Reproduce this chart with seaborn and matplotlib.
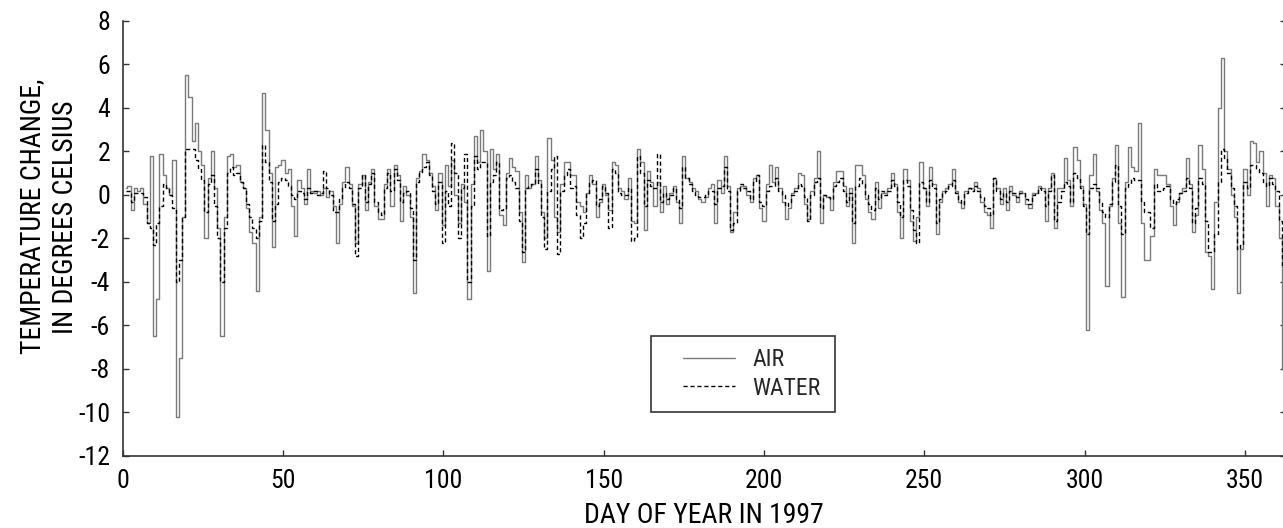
import numpy as np
import pandas as pd
import matplotlib
matplotlib.use("Agg")
import matplotlib.pyplot as plt
from matplotlib import font_manager
from matplotlib.legend_handler import HandlerLine2D
import seaborn as sns

# ---- data (daily values, day 1 .. 363) ----
air = [
    0.3, 0.4, -0.7, 0.3, 0.2, 0.3, -0.4, -1.3, 1.8, -6.5, -4.8, 1.9, 0.9, 0.3, 0.0, 1.6, -10.2, -7.5,
    -1.0, 5.5, 4.5, 2.5, 3.3, 2.0, 1.4, -2.0, 0.8, 2.0, 0.3, -1.5, -6.5, -1.0, 1.8, 1.9, 1.3, 1.4,
    0.6, 0.3, -0.6, -1.7, -2.2, -4.4, -1.0, 4.7, 3.0, 1.0, -2.4, 1.3, 1.4, 1.6, 1.0, 1.2, -0.5, -1.9,
    0.7, 0.3, -0.4, 1.2, 0.2, 0.1, 0.2, 0.0, 0.3, -0.1, 0.2, -0.5, -2.2, -0.4, 0.6, 1.3, 0.5, -0.5,
    -2.2, 0.5, 0.9, -0.7, 0.6, 1.2, -0.5, -1.1, -1.1, 0.5, 1.2, -0.5, 1.4, 0.9, -1.2, 0.4, 0.0, -1.0,
    -4.5, 0.8, 1.1, 1.9, 1.6, 1.0, 0.4, -0.7, 1.0, -1.4, 1.4, 0.4, 1.6, 0.0, -1.3, 0.5, -0.3, -4.8,
    0.5, 2.7, 1.5, 3.0, 2.0, -3.5, 2.1, 1.2, 1.9, -0.9, -1.4, 1.0, 1.7, 1.3, 1.1, -0.8, -3.1, 0.9,
    0.3, 0.5, 1.8, 0.7, -0.8, -2.0, 2.6, 1.6, -1.0, -1.7, 0.5, 1.5, 1.5, 0.9, 0.9, -0.3, -0.5, -0.8,
    0.1, 0.9, 0.5, -1.0, -0.3, 0.5, 0.0, -0.7, 1.5, 1.4, 0.3, 0.2, -0.2, 0.8, -1.2, -1.3, 2.1, 1.5,
    -1.6, 1.1, 0.6, -0.5, 0.6, -0.8, 0.4, -0.4, 0.1, 0.4, -0.3, -1.3, 1.8, 0.8, 0.6, 0.3, 0.2, -0.2,
    -0.3, -0.1, 0.3, 0.5, -1.3, 0.7, 0.1, 1.8, 0.4, -1.7, -0.8, 0.3, 0.4, 0.4, 0.0, -0.3, 0.8, 0.9,
    -0.6, -1.2, 0.5, 1.4, 0.6, 1.3, 0.3, -0.3, -1.1, -0.6, 0.1, 0.3, 1.0, 0.9, -0.4, -1.1, 0.2, 0.8,
    2.0, -1.3, 0.0, -0.1, -0.7, 0.6, 1.1, 1.1, 0.4, -0.5, 0.3, -2.2, 1.4, 1.4, 0.9, -0.2, -0.8, -1.1,
    0.6, -0.6, 0.1, 0.1, 0.3, 1.0, 0.5, -0.8, -2.0, 1.2, 0.7, -1.2, -2.1, -1.0, 1.5, 0.3, -0.5, 1.3,
    0.5, -1.8, -0.3, 0.2, 0.3, 0.5, 1.2, 0.2, -0.3, -0.6, 0.2, 0.3, 0.3, 0.6, 0.3, -0.3, -0.8, -0.9,
    -1.5, 0.8, 0.3, -0.4, 0.3, -0.7, 0.4, 0.0, -0.3, 0.2, 0.1, -0.4, -0.6, 0.1, 0.1, 0.4, 0.3, -1.2,
    0.3, 1.0, -1.5, 0.3, 0.3, 1.7, 0.7, -0.5, 2.2, 1.6, 0.4, -0.4, -6.2, 0.9, 1.9, 0.2, -0.7, -1.3,
    -4.2, -0.5, 0.8, 2.3, -1.3, -4.7, 0.6, 2.2, 1.3, 1.1, 3.3, -1.3, -3.0, -3.0, -1.9, 1.2, 0.9, 0.9, 0.9,
    0.5, -0.5, -1.4, -0.3, 0.1, 0.3, 1.7, 0.5, -1.7, -0.9, 2.3, 1.2, -2.6, -2.8, -4.3, -0.3, 4.0, 6.3,
    2.0, 1.2, 0.0, -1.0, -4.5, -2.5, 1.2, 0.0, 2.5, 2.4, 1.5, 2.0, 1.0, -0.5, 0.9, 0.8, -0.5, -2.0, -8.0, -8.0,
]
water = [
    0.2, 0.2, -0.3, 0.1, 0.1, 0.1, -0.1, -1.3, -1.5, -2.3, -1.3, -0.5, 0.5, 0.3, 0.0, -0.6, -4.0, -3.0,
    -1.0, 2.1, 2.1, 2.1, 1.6, 1.2, 0.7, -0.8, 0.5, 0.9, -0.5, -2.0, -4.0, -1.5, 1.0, 1.3, 0.9, 1.0,
    0.6, 0.3, -0.4, -1.0, -1.5, -2.0, -1.2, 2.3, 1.5, 0.6, -1.2, -0.4, 0.6, 0.8, 0.7, 0.4, 0.0, -0.2,
    0.2, 0.1, -0.2, 0.3, 0.1, 0.2, 0.0, 0.1, 1.1, 0.3, 0.0, -0.8, -0.8, -0.2, 0.3, 0.6, 0.3, -0.4,
    -2.8, 0.3, 0.9, -0.3, 0.5, 1.0, -0.3, -0.8, -0.9, 0.3, 1.0, 0.2, 1.2, 0.7, -0.3, 0.1, 0.2, -0.6,
    -3.0, 0.6, 1.0, 1.3, 1.5, 0.9, 0.2, -0.4, 0.6, -2.2, 0.2, -0.5, 2.4, 1.0, -2.0, 0.3, 1.9, -4.0,
    -0.5, 1.8, 1.2, 1.5, 1.5, -1.9, 0.6, 0.9, 1.5, -0.7, -0.6, 0.8, 0.9, 0.6, 0.3, -1.2, -2.6, 0.3,
    0.4, 0.5, 1.2, 0.5, -1.0, -2.5, 0.2, 1.2, 1.8, -2.7, 0.2, 0.9, 1.2, 0.3, 0.4, -0.9, -2.0, -1.3,
    0.1, 0.6, 0.7, -0.5, -0.2, 0.4, 0.1, -1.5, 1.2, 1.0, 0.1, 0.0, 0.0, 0.3, -2.1, -2.0, 1.8, 1.0,
    -0.5, 0.7, 0.4, 0.3, 1.9, -0.3, 0.1, -0.2, 0.0, 0.3, -0.2, -0.6, 1.3, 0.8, 0.5, 0.2, 0.0, -0.1,
    -0.1, 0.0, 0.2, 0.2, -0.4, 0.3, 0.4, 1.3, 0.2, -1.6, -1.3, 0.2, 0.5, 0.3, 0.2, -0.2, 0.6, 0.9,
    -0.3, -0.5, 0.2, 0.4, 0.4, 0.8, 0.2, 0.0, -0.5, -0.3, 0.0, 0.2, 0.5, 0.4, -0.1, -1.2, 0.0, 0.6,
    0.8, -0.6, 0.0, -0.1, -0.2, 0.4, 0.6, 0.8, 0.2, -0.3, 0.1, -1.3, 0.4, 0.8, 0.5, 0.0, -0.4, -0.7,
    0.3, -0.2, 0.2, 0.0, 0.2, 0.7, 0.4, -0.3, -1.0, 0.7, 0.4, -0.7, -1.6, -2.2, 0.6, 0.3, -0.3, 0.7,
    0.3, -1.3, -0.2, 0.1, 0.2, 0.4, 0.7, 0.1, -0.2, -0.4, 0.1, 0.3, 0.2, 0.4, 0.2, -0.1, -0.5, -0.6,
    -0.9, 0.8, 0.2, -0.2, 0.1, -0.3, 0.2, 0.1, -0.1, 0.1, 0.1, -0.2, -0.4, 0.0, 0.1, 0.3, 0.2, -0.5,
    0.2, 0.9, -1.2, -0.3, 0.2, 0.6, 0.4, -0.3, 1.0, 0.8, 0.3, -0.5, -1.8, 0.3, 0.5, 0.3, -0.3, -0.8,
    -1.0, -0.4, 0.6, 1.4, -0.5, -1.8, 0.3, 0.5, 0.8, 0.7, 0.7, -0.3, -0.8, -0.8, -1.5, 0.5, 0.2, 0.2, 0.3,
    0.4, -0.2, -0.4, -0.2, 0.1, 0.2, 0.8, 0.3, -1.3, -0.6, 0.8, 0.5, -1.2, -2.6, -2.6, -1.8, 0.6, 2.1,
    1.7, 1.0, 0.3, -0.5, -2.5, -2.3, 0.6, 0.3, 1.4, 1.4, 1.2, 1.0, 0.6, 0.4, 0.8, 0.5, 0.2, -1.2, -3.3, -3.0,
]
days = list(range(1, len(air) + 1))
x_ticks = [0, 50, 100, 150, 200, 250, 300, 350]
y_ticks = [-12, -10, -8, -6, -4, -2, 0, 2, 4, 6, 8]

df = pd.DataFrame({"day": days, "AIR": air, "WATER": water})

sns.set_theme(style="white")

# pick a condensed / narrow font if one is installed
family, stretch = "Liberation Sans", "normal"
cands = []
for f in font_manager.fontManager.ttflist:
    fn = f.fname.lower()
    if ("narrow" in fn or "condensed" in fn) and "bold" not in fn and "italic" not in fn \
            and "oblique" not in fn and "light" not in fn and "thin" not in fn:
        cands.append(f)
pref = ["liberationsansnarrow", "robotocondensed", "dejavusanscondensed", "condensed", "narrow"]
chosen = None
for p in pref:
    for f in cands:
        if p in f.fname.lower().replace("-", "").replace("_", ""):
            chosen = f
            break
    if chosen:
        break
if chosen is not None:
    family, stretch = chosen.name, chosen.stretch
plt.rcParams["font.family"] = [family, "DejaVu Sans"]
plt.rcParams["font.stretch"] = stretch


class LeadHandler(HandlerLine2D):
    """Legend line handle that starts a bit inside its handle box."""
    def __init__(self, lead, **kw):
        super().__init__(**kw)
        self.lead = lead

    def get_xdata(self, legend, xdescent, ydescent, width, height, fontsize):
        x0 = -xdescent + self.lead * fontsize
        x1 = -xdescent + width
        return np.array([x0, x1]), np.array([(x0 + x1) / 2])


W, H = 1283, 528
fig = plt.figure(figsize=(W / 100, H / 100), dpi=100)
left_px, right_px, top_px, bot_px = 122.6, 1286.0, 21.0, 456.0
ax = fig.add_axes([left_px / W, 1 - bot_px / H, (right_px - left_px) / W, (bot_px - top_px) / H])

sns.lineplot(data=df, x="day", y="AIR", ax=ax, color="#7a7a7a", linewidth=1.0,
             drawstyle="steps-mid", label="AIR")
sns.lineplot(data=df, x="day", y="WATER", ax=ax, color="black", linewidth=1.0,
             drawstyle="steps-mid", label="WATER")
ax.lines[1].set_linestyle((0, (3, 2)))

ax.set_xlim(0, 362.8)
ax.set_ylim(-12, 8)
ax.set_xticks(x_ticks)
ax.set_yticks(y_ticks)
ax.set_xticklabels([str(v) for v in x_ticks])
ax.set_yticklabels([str(v) for v in y_ticks])

for s in ["left", "bottom", "right"]:
    ax.spines[s].set_visible(True)
    ax.spines[s].set_color("#333333")
    ax.spines[s].set_linewidth(1.2)
ax.spines["top"].set_visible(False)

ax.tick_params(axis="both", which="major", direction="in", length=4.5, width=1.0,
               color="#333333", labelsize=18.5, pad=9, labelcolor="black")
ax.tick_params(axis="y", right=True, labelright=False, left=True)
ax.tick_params(axis="x", bottom=True, top=False)

ax.set_xlabel("DAY OF YEAR IN 1997", fontsize=20, color="black")
ax.set_ylabel("TEMPERATURE CHANGE,\nIN DEGREES CELSIUS", fontsize=20, color="black",
              linespacing=1.29)
ax.xaxis.set_label_coords(0.5, -0.106)
ax.yaxis.set_label_coords(-0.0373, 0.55)

fs_pt = 17
fs_px = fs_pt * 100 / 72.0
bp = 0.5
start = 651 + bp * fs_px
leg = ax.legend(loc="upper left",
                bbox_to_anchor=((651 - left_px) / (right_px - left_px), (bot_px - 336) / 435,
                                (835 - 651) / (right_px - left_px), 0.0),
                mode="expand", frameon=True, fancybox=False, fontsize=fs_pt,
                handlelength=(735 - start) / fs_px, handletextpad=17 / fs_px,
                borderpad=bp, labelspacing=0.25, borderaxespad=0,
                handler_map={l: LeadHandler((683 - start) / fs_px) for l in ax.lines[:2]})
leg.get_frame().set_edgecolor("#333333")
leg.get_frame().set_linewidth(1.2)
leg.get_frame().set_facecolor("white")
leg.get_frame().set_alpha(1)

fig.savefig("out.png", dpi=100)
